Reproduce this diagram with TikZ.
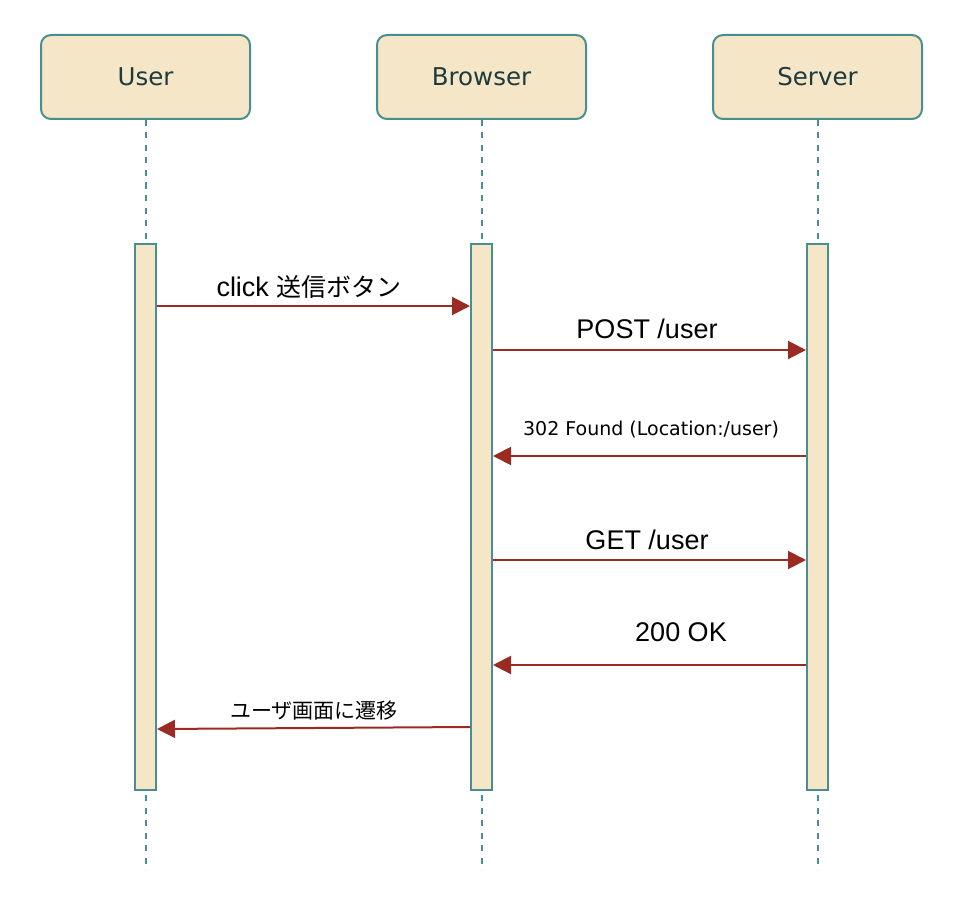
\documentclass[tikz,border=0pt]{standalone}
\usepackage{fontspec}
\setmainfont{DejaVu Sans}
\newfontfamily\cjk{Noto Sans CJK JP}
\newfontfamily\arialf{Liberation Sans}
\usetikzlibrary{arrows.meta}
\definecolor{boxfill}{HTML}{F5E6C8}
\definecolor{boxline}{HTML}{4A8F8F}
\definecolor{boxtext}{HTML}{1F3A3D}
\definecolor{msgred}{HTML}{9B2A22}
\begin{document}
\begin{tikzpicture}[x=1pt,y=-1pt,
  actor/.style={draw=boxline,fill=boxfill,line width=2pt,rounded corners=10pt,
    minimum width=209pt,minimum height=84pt,text=boxtext,
    font=\fontsize{24.5}{28}\selectfont},
  lifeline/.style={draw=boxline,line width=2pt,dash pattern=on 6pt off 6.5pt},
  actbar/.style={draw=boxline,fill=boxfill,line width=2pt,minimum width=21pt,
    minimum height=546pt,inner sep=0pt},
  msg/.style={draw=msgred,line width=2pt,-{Triangle[length=18pt,width=18pt]}},
  biglbl/.style={font=\arialf\fontsize{27}{30}\selectfont,text=black,inner sep=0pt},
  smalllbl/.style={font=\fontsize{19}{22}\selectfont,text=black,inner sep=0pt},
  jplbl/.style={font=\cjk\fontsize{21}{24}\selectfont,text=black,inner sep=0pt}]
\useasboundingbox (0,0) rectangle (960,896);
% lifelines
\coordinate (uend) at (145.5,870);
\coordinate (bend) at (481.5,870);
\coordinate (send) at (817.5,870);
\node[actor] (user) at (145.5,77) {User};
\node[actor] (browser) at (481.5,77) {Browser};
\node[actor] (server) at (817.5,77) {Server};
\draw[lifeline] (user.south) -- (uend);
\draw[lifeline] (browser.south) -- (bend);
\draw[lifeline] (server.south) -- (send);
% activation bars
\node[actbar] (ubar) at (145.5,517) {};
\node[actbar] (bbar) at (481.5,517) {};
\node[actbar] (sbar) at (817.5,517) {};
% messages
\draw[msg] (ubar.east |- 0,306) -- (bbar.west |- 0,306);
\node[biglbl] (l1) at (309,287) {click {\cjk\fontsize{25}{28}\selectfont 送信ボタン}};
\draw[msg] (bbar.east |- 0,350) -- (sbar.west |- 0,350);
\node[biglbl] (l2) at (647,329) {POST /user};
\draw[msg] (sbar.west |- 0,456) -- (bbar.east |- 0,456);
\node[smalllbl] (l3) at (651,430) {302 Found (Location:/user)};
\draw[msg] (bbar.east |- 0,560) -- (sbar.west |- 0,560);
\node[biglbl] (l4) at (647,540) {GET /user};
\draw[msg] (sbar.west |- 0,665) -- (bbar.east |- 0,665);
\node[biglbl] (l5) at (681,632) {200 OK};
\draw[msg] (bbar.west |- 0,727) -- (ubar.east |- 0,729);
\node[jplbl] (l6) at (314,711) {ユーザ画面に遷移};
\end{tikzpicture}
\end{document}
